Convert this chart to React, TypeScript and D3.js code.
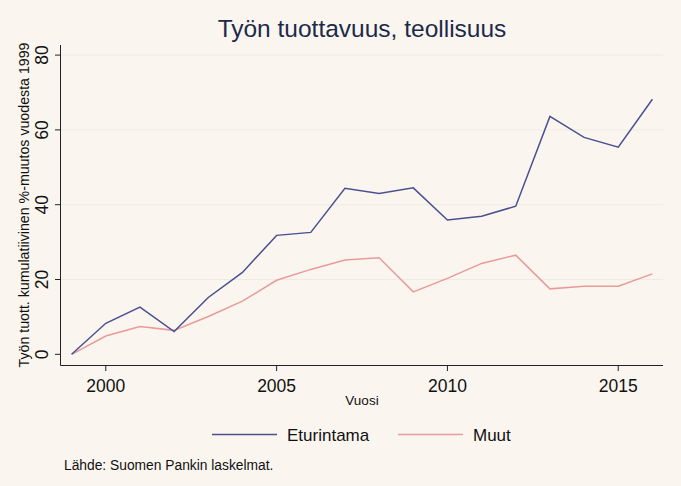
import React from "react";
import * as d3 from "d3";

const years = [1999,2000,2001,2002,2003,2004,2005,2006,2007,2008,2009,2010,2011,2012,2013,2014,2015,2016];
const eturintama = [0,8.3,12.6,6.1,15.2,21.9,31.8,32.6,44.4,43.0,44.5,35.9,36.9,39.6,63.6,58.0,55.4,68.2];
const muut = [0,4.9,7.4,6.4,10.1,14.2,19.8,22.7,25.2,25.8,16.7,20.3,24.3,26.5,17.5,18.2,18.2,21.5];
const xTicks = [2000,2005,2010,2015];
const yTicks = [0,20,40,60,80];
const seriesNames = ["Eturintama","Muut"];
const colors = ["#4b4f91","#e99a9b"];

export default function App() {
  const W = 681, H = 486;
  const x = d3.scaleLinear().domain([1998.68, 2016.31]).range([60.7, 663]);
  const y = d3.scaleLinear().domain([-2.86, 82.7]).range([365, 45]);
  const line = d3.line<number>().x((_, i) => x(years[i])).y(d => y(d));
  const font = "'Liberation Sans', Arial, sans-serif";
  return (
    <svg width={W} height={H} style={{ position: "absolute", left: 0, top: 0, fontFamily: font }}>
      <rect x={0} y={0} width={W} height={H} fill="#faf6ef" />
      {yTicks.filter(t => t > 0).map(t => (
        <line key={"g" + t} x1={61} x2={663} y1={y(t)} y2={y(t)} stroke="#efebe3" strokeWidth={1} />
      ))}
      <text x={362} y={37} textAnchor="middle" fontSize={24.5} fill="#1c2a4a">Työn tuottavuus, teollisuus</text>
      {/* axes */}
      <line x1={60.5} x2={60.5} y1={45} y2={365.5} stroke="#222" strokeWidth={1} />
      <line x1={60.5} x2={663} y1={365.5} y2={365.5} stroke="#222" strokeWidth={1} />
      {yTicks.map(t => (
        <g key={"y" + t}>
          <line x1={55} x2={60.5} y1={y(t)} y2={y(t)} stroke="#222" />
          <text transform={`translate(47.5,${y(t)}) rotate(-90)`} textAnchor="middle" fontSize={17.5} fill="#111">{t}</text>
        </g>
      ))}
      {xTicks.map(t => (
        <g key={"x" + t}>
          <line x1={x(t)} x2={x(t)} y1={365.5} y2={371} stroke="#222" />
          <text x={x(t)} y={392} textAnchor="middle" fontSize={17.5} fill="#111">{t}</text>
        </g>
      ))}
      <text x={362} y={405} textAnchor="middle" fontSize={13.5} fill="#111">Vuosi</text>
      <text transform={`translate(29,205) rotate(-90)`} textAnchor="middle" fontSize={14.2} fill="#111">Työn tuott. kumulatiivinen %-muutos vuodesta 1999</text>
      <path d={line(muut) || ""} fill="none" stroke={colors[1]} strokeWidth={1.5} />
      <path d={line(eturintama) || ""} fill="none" stroke={colors[0]} strokeWidth={1.5} />
      {/* legend */}
      <line x1={212} x2={277} y1={434.5} y2={434.5} stroke={colors[0]} strokeWidth={1.5} />
      <text x={287} y={441} fontSize={17} fill="#111">{seriesNames[0]}</text>
      <line x1={398} x2={463} y1={434.5} y2={434.5} stroke={colors[1]} strokeWidth={1.5} />
      <text x={473} y={441} fontSize={17} fill="#111">{seriesNames[1]}</text>
      <text x={64} y={469.5} fontSize={13.8} fill="#111">Lähde: Suomen Pankin laskelmat.</text>
    </svg>
  );
}
